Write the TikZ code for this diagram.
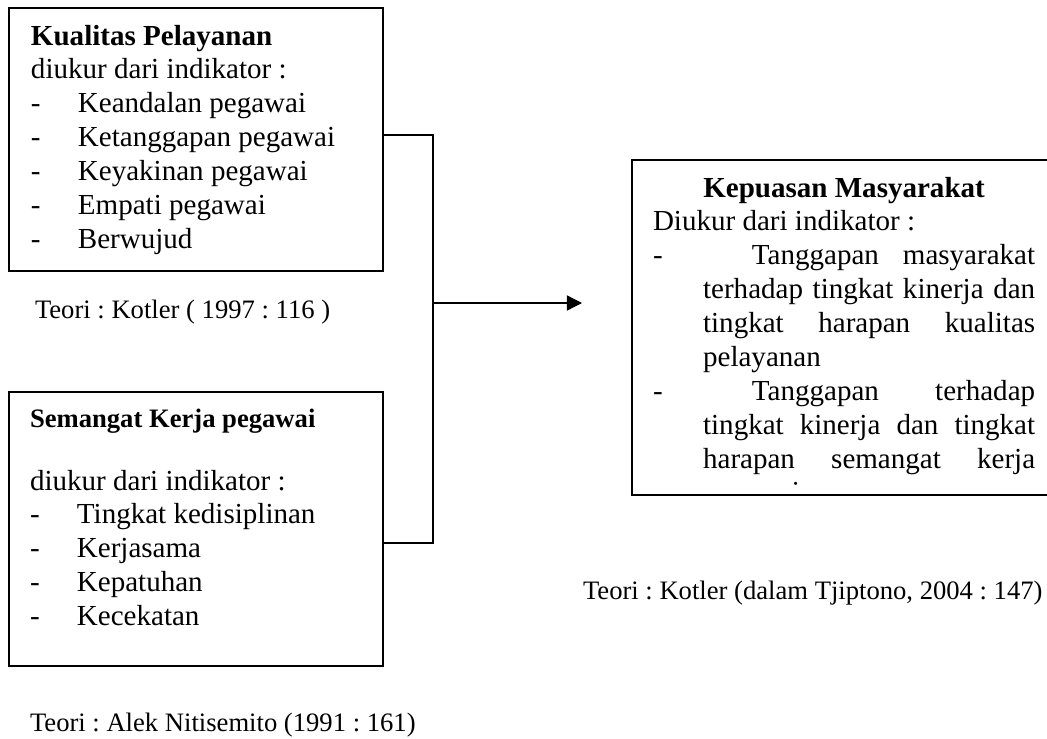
\documentclass[tikz,border=0pt]{standalone}
\usepackage{fontspec}
\setmainfont{Liberation Serif}
\usetikzlibrary{arrows.meta}
\frenchspacing
\def\pxu{0.4132pt}
\newcommand{\dashitem}[1]{\makebox[19.4pt][l]{-}#1}
\tikzset{
  box/.style={draw, line width=0.75pt, inner sep=0pt, outer sep=0pt},
  conn/.style={line width=0.55pt},
  txt/.style={inner sep=0pt, outer sep=0pt, anchor=base west, font=\frenchspacing},
}
\begin{document}
\begin{tikzpicture}[x=0.4132pt, y=-0.4132pt]
\useasboundingbox (0,0) rectangle (1047,739);
% boxes
\node[box, minimum width={374*\pxu}, minimum height={263*\pxu}] (box1) at (196,139.5) {};
\node[box, minimum width={374*\pxu}, minimum height={274*\pxu}] (box2) at (196,529) {};
\node[box, minimum width={430*\pxu}, minimum height={335*\pxu}] (box3) at (847,327.5) {};
% box 1 text
\node[txt] (t1) at (31,45) {\parbox[t]{150pt}{\fontsize{12}{14}\selectfont\raggedright
\textbf{Kualitas Pelayanan}\\
diukur dari indikator :\\
\dashitem{Keandalan pegawai}\\
\dashitem{Ketanggapan pegawai}\\
\dashitem{Keyakinan pegawai}\\
\dashitem{Empati pegawai}\\
\dashitem{Berwujud}}};
% box 2 text
\node[txt] (t2a) at (30,427) {\fontsize{11}{12.65}\selectfont\textbf{Semangat Kerja pegawai}};
\node[txt] (t2) at (30,490) {\parbox[t]{150pt}{\fontsize{12}{14}\selectfont\raggedright
diukur dari indikator :\\
\dashitem{Tingkat kedisiplinan}\\
\dashitem{Kerjasama}\\
\dashitem{Kepatuhan}\\
\dashitem{Kecekatan}}};
% box 3 text
\begin{scope}
\clip (632,160) rectangle (1047,485);
\node[txt] (t3) at (653,197) {\parbox[t]{157.9pt}{\fontsize{12}{14}\selectfont\hbadness=10000
{\centering\textbf{Kepuasan Masyarakat}\par}
\noindent Diukur dari indikator :\par
\noindent\hangindent=20.7pt\hangafter=1\makebox[20.7pt][l]{-}\hspace{20.2pt}Tanggapan masyarakat\linebreak terhadap tingkat kinerja dan\linebreak tingkat harapan kualitas\linebreak pelayanan\par
\noindent\hangindent=20.7pt\hangafter=1\makebox[20.7pt][l]{-}\hspace{20.2pt}Tanggapan terhadap\linebreak tingkat kinerja dan tingkat\linebreak harapan semangat kerja\linebreak pegawai.\par}};
\end{scope}
% captions
\node[txt] (c1) at (35,318) {\fontsize{11}{13}\selectfont Teori : Kotler ( 1997 : 116 )};
\node[txt] (c2) at (583,599) {\fontsize{11}{13}\selectfont Teori : Kotler (dalam Tjiptono, 2004 : 147)};
\node[txt] (c3) at (30,731) {\fontsize{11}{13}\selectfont Teori : Alek Nitisemito (1991 : 161)};
% connectors
\coordinate (j1) at (433,135);
\coordinate (j2) at (433,543);
\coordinate (jm) at (433,303);
\coordinate (tip) at (582,303);
\draw[conn] (box1.east |- j1) -- (j1) -- (j2) -- (box2.east |- j2);
\draw[conn, -{Triangle[length=6.2pt, width=6.2pt]}] (jm) -- (tip);
\end{tikzpicture}
\end{document}
